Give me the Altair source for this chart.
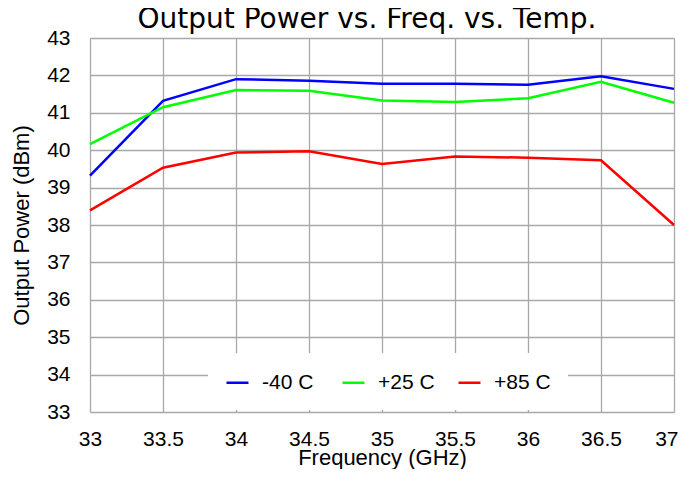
import altair as alt
import pandas as pd

freq = [33, 33.5, 34, 34.5, 35, 35.5, 36, 36.5, 37]
m40 = [39.32, 41.32, 41.90, 41.86, 41.78, 41.78, 41.75, 41.98, 41.64]
p25 = [40.16, 41.15, 41.61, 41.59, 41.33, 41.29, 41.39, 41.83, 41.27]
p85 = [38.39, 39.53, 39.94, 39.97, 39.63, 39.83, 39.80, 39.73, 38.00]
series = ["-40 C", "+25 C", "+85 C"]
colors = ["#0000FF", "#00FF00", "#FF0000"]
x_ticks = [33, 33.5, 34, 34.5, 35, 35.5, 36, 36.5, 37]
y_ticks = list(range(33, 44))

rows = []
for name, vals in zip(series, [m40, p25, p85]):
    for f, v in zip(freq, vals):
        rows.append({"Frequency": f, "Power": v, "Temp": name})
df = pd.DataFrame(rows)

FONT = "Liberation Sans"

chart = alt.Chart(df).mark_line(strokeWidth=2.5).encode(
    x=alt.X("Frequency:Q",
            scale=alt.Scale(domain=[33, 37], nice=False, zero=False),
            axis=alt.Axis(values=x_ticks, format="~g", title="Frequency (GHz)",
                          labelFontSize=21, titleFontSize=22, labelPadding=16,
                          titlePadding=-2, ticks=False, domain=False,
                          labelFlush=False, labelOverlap=False,
                          labelAlign={"condition": {"test": "datum.value == 37", "value": "right"},
                                      "value": "center"},
                          labelOffset={"condition": {"test": "datum.value == 37", "value": 4},
                                       "value": 0},
                          gridColor="#a8a8a8", gridWidth=1.3,
                          labelColor="#000", titleColor="#000",
                          labelFont=FONT, titleFont=FONT, titleFontWeight="normal")),
    y=alt.Y("Power:Q",
            scale=alt.Scale(domain=[33, 43], nice=False, zero=False),
            axis=alt.Axis(values=y_ticks, title="Output Power (dBm)",
                          labelFontSize=21, titleFontSize=22, labelPadding=20,
                          titlePadding=13, ticks=False, domain=False,
                          labelFlush=False, labelOverlap=False,
                          gridColor="#a8a8a8", gridWidth=1.3,
                          labelColor="#000", titleColor="#000",
                          labelFont=FONT, titleFont=FONT, titleFontWeight="normal")),
    color=alt.Color("Temp:N",
                    scale=alt.Scale(domain=series, range=colors),
                    legend=alt.Legend(title=None, orient="none", direction="horizontal",
                                      legendX=118, legendY=315,
                                      fillColor="white", padding=17,
                                      gridAlign="all",
                                      symbolType="stroke", symbolSize=484,
                                      symbolStrokeWidth=2.5, labelFontSize=21,
                                      labelFont=FONT, labelColor="#000",
                                      labelOffset=12, columnPadding=18)),
).properties(
    width=584,
    height=374,
    title=alt.TitleParams("Output Power vs. Freq. vs. Temp.", fontSize=28,
                          font="DejaVu Sans", fontWeight="normal", color="#000",
                          offset=-7, dx=-15),
    autosize=alt.AutoSizeParams(type="none"),
    padding={"left": 82, "top": 30, "right": 4, "bottom": 57},
).configure_view(
    stroke="#333333", strokeWidth=2
).configure(background="white")

chart.save("out.html", embed_options={"renderer": "svg", "actions": False})
